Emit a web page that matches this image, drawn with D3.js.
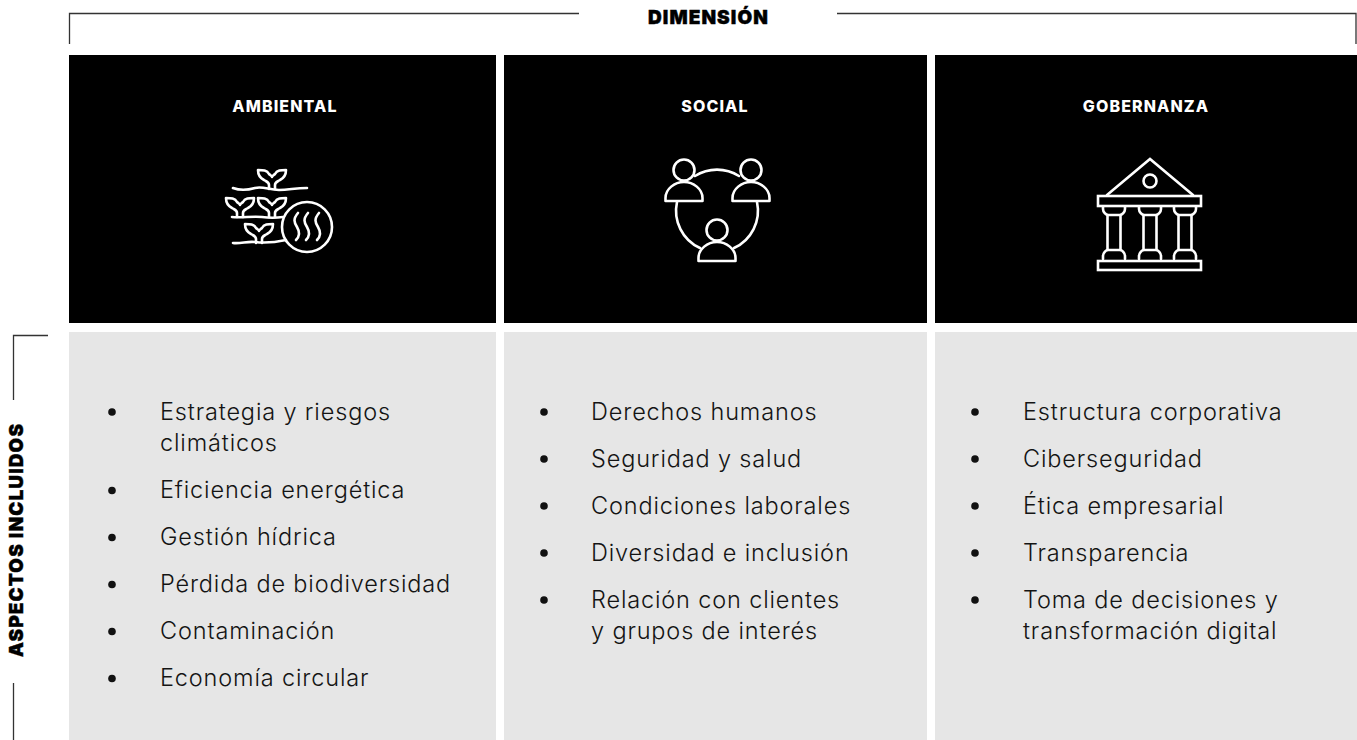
<!DOCTYPE html>
<html lang="es">
<head>
<meta charset="UTF-8">
<title>Dimensiones ASG</title>
<script src="https://d3js.org/d3.v7.min.js"></script>
<style>
  body { margin: 0; background: #fff; overflow: hidden; }
  svg { display: block; }
  text { font-family: "Inter", "Noto Sans", sans-serif; }
  .item { font-size: 23.5px; fill: #141414; font-weight: 300; letter-spacing: 0.85px; }
  .head { font-size: 16px; font-weight: 800; fill: #fff; letter-spacing: 1.1px; }
  .title { font-size: 19px; font-weight: 900; fill: #000; letter-spacing: 1.1px; stroke: #000; stroke-width: 0.4px; }
  .rule { stroke: #333; stroke-width: 1.3; fill: none; }
  .icon { stroke: #fff; stroke-width: 2.6; fill: none; stroke-linecap: round; stroke-linejoin: round; }
</style>
</head>
<body>
<script>
const dimensionTitle = "DIMENSIÓN";
const aspectsTitle = "ASPECTOS INCLUIDOS";
const categories = ["AMBIENTAL", "SOCIAL", "GOBERNANZA"];
const ambientalItems = [["Estrategia y riesgos", "climáticos"], ["Eficiencia energética"], ["Gestión hídrica"], ["Pérdida de biodiversidad"], ["Contaminación"], ["Economía circular"]];
const socialItems = [["Derechos humanos"], ["Seguridad y salud"], ["Condiciones laborales"], ["Diversidad e inclusión"], ["Relación con clientes", "y grupos de interés"]];
const gobernanzaItems = [["Estructura corporativa"], ["Ciberseguridad"], ["Ética empresarial"], ["Transparencia"], ["Toma de decisiones y", "transformación digital"]];
const itemLists = [ambientalItems, socialItems, gobernanzaItems];

const width = 1357, height = 740;
const svg = d3.select("body").append("svg").attr("width", width).attr("height", height);

// columns are not quite equal in the source, so ordinal scales instead of a band
const colLeft = d3.scaleOrdinal().domain(categories).range([69, 504, 935]);
const colRight = d3.scaleOrdinal().domain(categories).range([496, 927, 1357]);
const headX = d3.scaleOrdinal().domain(categories).range([285, 715, 1146]);
const bulletX = d3.scaleOrdinal().domain(categories).range([112, 544, 975]);
const textX = d3.scaleOrdinal().domain(categories).range([160, 591, 1023]);
const rows = { headTop: 55, headBottom: 323, bodyTop: 332, bodyBottom: 740 };

const cols = svg.selectAll("g.col").data(categories).enter().append("g").attr("class", "col");

cols.append("rect")
    .attr("x", d => colLeft(d)).attr("y", rows.headTop)
    .attr("width", d => colRight(d) - colLeft(d))
    .attr("height", rows.headBottom - rows.headTop).attr("fill", "#000");
cols.append("rect")
    .attr("x", d => colLeft(d)).attr("y", rows.bodyTop)
    .attr("width", d => colRight(d) - colLeft(d))
    .attr("height", rows.bodyBottom - rows.bodyTop).attr("fill", "#e6e6e6");
cols.append("text")
    .attr("class", "head").attr("text-anchor", "middle")
    .attr("x", d => headX(d)).attr("y", 112)
    .text(d => d);

// list text, one row per line, small gap between bullets
const lineStep = 31.5, gap = 15.5;
cols.each(function (d, i) {
    const g = d3.select(this);
    let y = 419.5;
    itemLists[i].forEach(lines => {
        g.append("circle").attr("cx", bulletX(d)).attr("cy", y - 7.5).attr("r", 3.8).attr("fill", "#111");
        lines.forEach((ln, k) => {
            g.append("text").attr("class", "item").attr("x", textX(d)).attr("y", y + k * lineStep).text(ln);
        });
        y += lines.length * lineStep + gap;
    });
});

// brackets
svg.append("path").attr("class", "rule").attr("d", "M69.5,44V13.5H579");
svg.append("path").attr("class", "rule").attr("d", "M837,13.5H1356V44");
svg.append("text").attr("class", "title").attr("text-anchor", "middle").attr("x", 708.5).attr("y", 24).text(dimensionTitle);
svg.append("path").attr("class", "rule").attr("d", "M48,335.5H13.5V400");
svg.append("path").attr("class", "rule").attr("d", "M13.5,683V740");
svg.append("text").attr("class", "title").attr("text-anchor", "middle")
    .attr("transform", "translate(23,540) rotate(-90)").text(aspectsTitle);

// icons
const sprout = (x, y) => `M${x - 3},${y}v-4c0,-3 -2,-3 -5,-5c-4,-2 -6,-6 -6,-10c5,0 9,0 11,4c1,1 3,2 3,3c0,-1 2,-2 3,-3c2,-4 6,-4 11,-4c0,4 -2,8 -6,10c-3,2 -5,2 -5,5v4`;
const iconA = svg.append("g").attr("class", "icon");
[[272, 189], [240, 217], [272, 217], [259, 243]].forEach(p => iconA.append("path").attr("d", sprout(p[0], p[1])));
iconA.append("path").attr("d", "M233,188c8,3 15,2 22,0c8,-2 14,2 24,2c10,0 16,-2 28,-2");
iconA.append("path").attr("d", "M232,217c10,1 20,-1 30,0c7,1 14,1 21,0");
iconA.append("path").attr("d", "M233,243c8,1 14,-2 22,-1c8,1 17,1 31,-2");
iconA.append("circle").attr("cx", 307).attr("cy", 227).attr("r", 25);
[297, 307, 318].forEach(s => iconA.append("path").attr("d", `M${s + 1},213c-5,6 -4,9 -1,14c3,5 3,9 -1,13`));

const person = (cx, cy) => `M${cx - 18.5},${cy + 20}v-3c0,-9 9,-16 18.5,-16c9.5,0 18.5,7 18.5,16v3z`;
const iconS = svg.append("g").attr("class", "icon");
iconS.append("path").attr("d", "M695,176A41,41 0 0 1 739,176");
iconS.append("path").attr("d", "M677,202A41,41 0 0 0 700,248");
iconS.append("path").attr("d", "M734,248A41,41 0 0 0 757,202");
[[684, 170], [751, 170], [717, 230]].forEach(p => {
    iconS.append("circle").attr("cx", p[0]).attr("cy", p[1]).attr("r", 10.5);
    iconS.append("path").attr("d", person(p[0], p[1] + 11));
});

const iconG = svg.append("g").attr("class", "icon").style("stroke-linejoin", "miter");
iconG.append("path").attr("d", "M1107,195L1150,159L1193,195");
iconG.append("circle").attr("cx", 1150).attr("cy", 181).attr("r", 6.5);
iconG.append("rect").attr("x", 1098).attr("y", 196).attr("width", 103).attr("height", 10);
iconG.append("rect").attr("x", 1098).attr("y", 261).attr("width", 103).attr("height", 9);
[1114, 1150, 1185].forEach(c => {
    iconG.append("path").attr("d", `M${c - 11},207v2c0,3 3,6 5,6h12c2,0 5,-3 5,-6v-2`);
    iconG.append("path").attr("d", `M${c - 6.5},215v35M${c + 6.5},215v35`);
    iconG.append("path").attr("d", `M${c - 11},259v-3c0,-3 3,-6 5,-6h12c2,0 5,3 5,6v3`);
});
</script>
</body>
</html>
